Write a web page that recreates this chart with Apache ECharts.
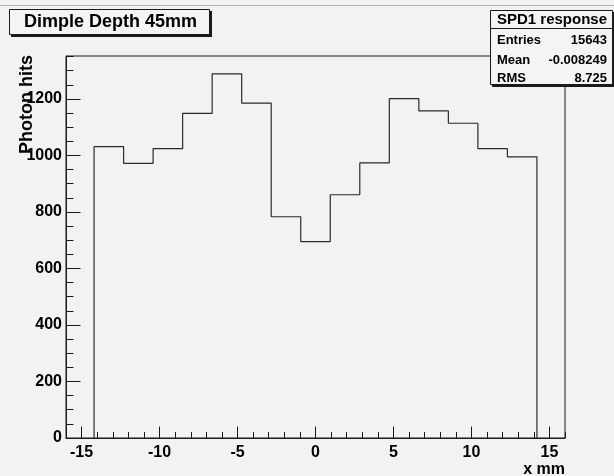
<!DOCTYPE html>
<html><head><meta charset="utf-8">
<script src="https://cdn.jsdelivr.net/npm/echarts@6/dist/echarts.min.js"></script>
<style>html,body{margin:0;padding:0;background:#f2f2f2}#c{width:614px;height:476px}</style>
</head><body><div id="c"></div>
<script>
// ---- data ----
const binLow = -14.2;
const binHigh = 14.2;
const counts = [1031, 972, 1024, 1149, 1289, 1185, 783, 695, 861, 974, 1201, 1158, 1114, 1024, 995];
const xMajorTicks = [-15, -10, -5, 0, 5, 10, 15];
const xMinorTicks = [-16,-15,-14,-13,-12,-11,-10,-9,-8,-7,-6,-5,-4,-3,-2,-1,0,1,2,3,4,5,6,7,8,9,10,11,12,13,14,15,16];
const yMajorTicks = [0, 200, 400, 600, 800, 1000, 1200];
const yMinorTicks = [0,50,100,150,200,250,300,350,400,450,500,550,600,650,700,750,800,850,900,950,1000,1050,1100,1150,1200,1250,1300,1350];
const titleText = 'Dimple Depth 45mm';
const statName = 'SPD1 response';
const statLabels = ['Entries', 'Mean', 'RMS'];
const statValues = ['15643', '-0.008249', '8.725'];
const xTitle = 'x mm';
const yTitle = 'Photon hits';

// ---- build step outline from bins ----
const nb = counts.length;
const w = (binHigh - binLow) / nb;
const outline = [[binLow, 0]];
for (let i = 0; i < nb; i++) {
  outline.push([binLow + i * w, counts[i]]);
  outline.push([binLow + (i + 1) * w, counts[i]]);
}
outline.push([binHigh, 0]);

const F = 'Liberation Sans, Arial, Helvetica, sans-serif';
const ink = '#1a1a1a';
const chart = echarts.init(document.getElementById('c'), null, {renderer: 'canvas'});

const statRows = [];
statLabels.forEach((lab, i) => {
  const y = [40.5, 60.5, 78.5][i];
  statRows.push({type: 'text', x: 497, y: y, style: {text: lab, font: 'bold 13px ' + F, fill: '#000', textAlign: 'left', textVerticalAlign: 'middle'}});
  statRows.push({type: 'text', x: 607, y: y, style: {text: statValues[i], font: 'bold 13px ' + F, fill: '#000', textAlign: 'right', textVerticalAlign: 'middle'}});
});
const plain = v => String(v);

chart.setOption({
  backgroundColor: '#f2f2f2',
  animation: false,
  grid: {left: 66, right: 49, top: 56, bottom: 38, show: true, borderColor: ink, borderWidth: 1, backgroundColor: 'transparent'},
  xAxis: [
    {type: 'value', min: -16, max: 16, position: 'bottom',
     axisLine: {show: true, onZero: false, lineStyle: {color: ink}},
     axisTick: {show: true, inside: true, length: 11.5, customValues: xMajorTicks, lineStyle: {color: ink}},
     axisLabel: {customValues: xMajorTicks, formatter: plain, fontFamily: F, fontWeight: 'bold', fontSize: 16, color: '#000', margin: 7},
     splitLine: {show: false}},
    {type: 'value', min: -16, max: 16, position: 'bottom',
     axisLine: {show: false, onZero: false},
     axisTick: {show: true, inside: true, length: 6, customValues: xMinorTicks, lineStyle: {color: ink}},
     axisLabel: {show: false}, splitLine: {show: false}}
  ],
  yAxis: [
    {type: 'value', min: 0, max: 1352, position: 'left',
     axisLine: {show: true, onZero: false, lineStyle: {color: ink}},
     axisTick: {show: true, inside: true, length: 14.5, customValues: yMajorTicks, lineStyle: {color: ink}},
     axisLabel: {customValues: yMajorTicks, formatter: plain, fontFamily: F, fontWeight: 'bold', fontSize: 16, color: '#000', margin: 4},
     splitLine: {show: false}},
    {type: 'value', min: 0, max: 1352, position: 'left',
     axisLine: {show: false, onZero: false},
     axisTick: {show: true, inside: true, length: 7.5, customValues: yMinorTicks, lineStyle: {color: ink}},
     axisLabel: {show: false}, splitLine: {show: false}}
  ],
  series: [{
    type: 'line', xAxisIndex: 0, yAxisIndex: 0, data: outline, showSymbol: false, symbol: 'none',
    lineStyle: {color: '#2a2a2a', width: 1.2}, silent: true
  }],
  graphic: [
    {type: 'line', shape: {x1: 0, y1: 5.5, x2: 614, y2: 5.5}, style: {stroke: '#b0b0b0', lineWidth: 1}},
    // title box
    {type: 'rect', shape: {x: 11, y: 11, width: 201, height: 26}, style: {fill: '#1a1a1a'}},
    {type: 'rect', shape: {x: 9.5, y: 9.5, width: 200, height: 25}, style: {fill: '#f4f4f4', stroke: '#1a1a1a', lineWidth: 1}},
    {type: 'text', x: 24, y: 22.5, style: {text: titleText, font: 'bold 18px ' + F, fill: '#000', textVerticalAlign: 'middle'}},
    // stat box
    {type: 'rect', shape: {x: 492, y: 12, width: 123, height: 75}, style: {fill: '#1a1a1a'}},
    {type: 'rect', shape: {x: 490.5, y: 10.5, width: 122, height: 74}, style: {fill: '#f4f4f4', stroke: '#1a1a1a', lineWidth: 1}},
    {type: 'line', shape: {x1: 490.5, y1: 28.5, x2: 612.5, y2: 28.5}, style: {stroke: '#1a1a1a', lineWidth: 1}},
    {type: 'text', x: 552, y: 20, style: {text: statName, font: 'bold 15px ' + F, fill: '#000', textAlign: 'center', textVerticalAlign: 'middle'}},
    ...statRows,
    // axis titles
    {type: 'text', x: 565, y: 470, style: {text: xTitle, font: 'bold 16px ' + F, fill: '#000', textAlign: 'right', textVerticalAlign: 'middle'}},
    {type: 'text', x: 27, y: 55, rotation: Math.PI / 2, style: {text: yTitle, font: 'bold 18px ' + F, fill: '#000', textAlign: 'right', textVerticalAlign: 'middle'}}
  ]
});
</script>
</body></html>
